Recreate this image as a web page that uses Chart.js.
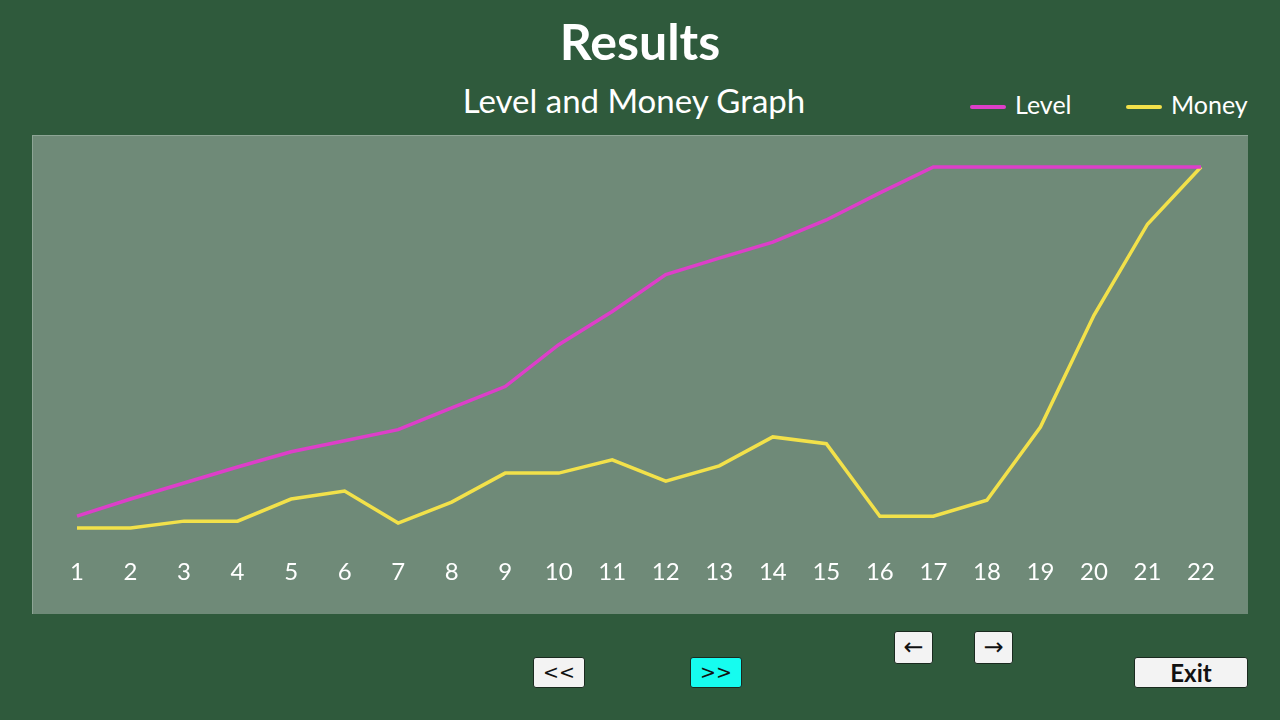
<!DOCTYPE html>
<html>
<head>
<meta charset="utf-8">
<script src="https://cdn.jsdelivr.net/npm/chart.js@4/dist/chart.umd.min.js"></script>
<style>
  html, body { margin: 0; padding: 0; }
  body { width: 1280px; height: 720px; background: #2f5a3c; position: relative; overflow: hidden; font-family: "Lato", sans-serif; color: #fff; }
  #title { position: absolute; left: 0; width: 1280px; top: 11px; text-align: center; font-size: 50px; font-weight: bold; line-height: 60px; }
  #subtitle { position: absolute; left: 0; width: 1268px; top: 78px; text-align: center; font-size: 33px; line-height: 44px; }
  .leg { position: absolute; top: 88px; font-size: 25px; line-height: 32px; }
  .leg span.sw { display: inline-block; width: 36px; height: 4px; border-radius: 2px; vertical-align: middle; margin-right: 9px; position: relative; top: -1px; }
  #panel { position: absolute; left: 32px; top: 135px; width: 1216px; height: 479px; background: #6f8a78; box-shadow: inset 1px 1px 0 #8da595; }
  #panel canvas { position: absolute; left: 0; top: 0; }
  .btn { position: absolute; background: #f3f3f3; color: #111; border: 1px solid #1a2a1f; border-radius: 3px; box-sizing: border-box; text-align: center; font-family: "DejaVu Sans", sans-serif; }
</style>
</head>
<body>
<div id="title">Results</div>
<div id="subtitle">Level and Money Graph</div>
<div class="leg" style="left:970px"><span class="sw" style="background:#dd3fc9"></span>Level</div>
<div class="leg" style="left:1126px"><span class="sw" style="background:#f2e14a"></span>Money</div>
<div id="panel"><canvas id="c" width="1216" height="479"></canvas></div>
<div class="btn" style="left:533px;top:657px;width:52px;height:31px;font-size:19px;line-height:29px;">&lt;&lt;</div>
<div class="btn" style="left:690px;top:657px;width:52px;height:31px;font-size:19px;line-height:29px;background:#16fcef;">&gt;&gt;</div>
<div class="btn" style="left:894px;top:631px;width:39px;height:33px;font-size:24px;line-height:30px;">&larr;</div>
<div class="btn" style="left:974px;top:631px;width:39px;height:33px;font-size:24px;line-height:30px;">&rarr;</div>
<div class="btn" style="left:1134px;top:657px;width:114px;height:31px;font-size:24px;line-height:30px;font-weight:bold;font-family:'Lato',sans-serif;">Exit</div>
<script>
const categories = ["1","2","3","4","5","6","7","8","9","10","11","12","13","14","15","16","17","18","19","20","21","22"];
const levelValues = [8.4, 12.9, 17.1, 21.3, 25.3, 28.2, 31.1, 36.8, 42.4, 53.4, 62.1, 71.8, 76.1, 80.3, 86.1, 93.2, 100, 100, 100, 100, 100, 100];
const moneyValues = [5.3, 5.3, 7.1, 7.1, 12.9, 15.0, 6.6, 12.1, 19.7, 19.7, 23.2, 17.6, 21.6, 29.2, 27.4, 8.4, 8.4, 12.6, 31.8, 61.1, 85.0, 100];
const seriesNames = ["Level", "Money"];

new Chart(document.getElementById('c'), {
  type: 'line',
  data: {
    labels: categories,
    datasets: [
      { label: seriesNames[0], data: levelValues, borderColor: '#dd3fc9', borderWidth: 3.5, pointRadius: 0, tension: 0, fill: false, clip: 6 },
      { label: seriesNames[1], data: moneyValues, borderColor: '#f2e14a', borderWidth: 3.5, pointRadius: 0, tension: 0, fill: false, clip: 6 }
    ]
  },
  options: {
    responsive: false,
    animation: false,
    events: [],
    layout: { padding: { left: 45, right: 47, top: 32, bottom: 17 } },
    plugins: { legend: { display: false }, title: { display: false }, tooltip: { enabled: false } },
    scales: {
      x: {
        grid: { display: false, drawTicks: false },
        border: { display: false },
        ticks: { color: '#ffffff', font: { family: 'Lato', size: 24 }, padding: 10, maxRotation: 0, autoSkip: false }
      },
      y: { display: false, min: 0, max: 100 }
    }
  }
});
</script>
</body>
</html>
